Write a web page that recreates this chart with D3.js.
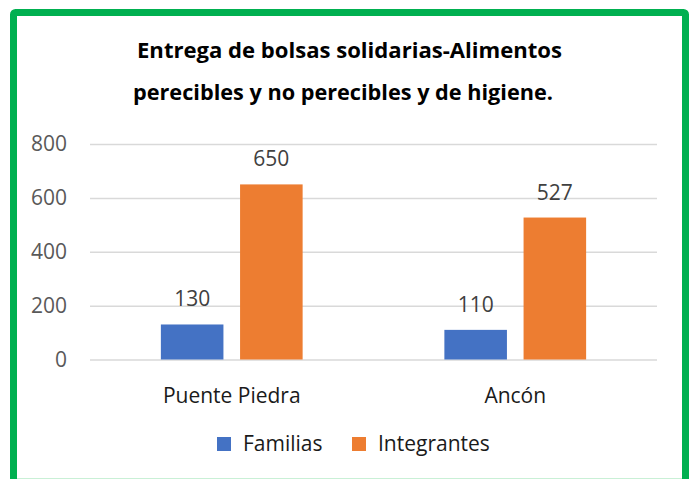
<!DOCTYPE html>
<html>
<head>
<meta charset="utf-8">
<script src="https://cdn.jsdelivr.net/npm/d3@7"></script>
<style>
  body { margin: 0; background: #fff; }
  svg { display: block; font-family: 'Open Sans', sans-serif; }
</style>
</head>
<body>
<div class="canvas"></div>
<script>
const categories = ['Puente Piedra', 'Ancón']
const seriesNames = ['Familias', 'Integrantes']
const familias = [130, 110]
const integrantes = [650, 527]
const yTicks = [0, 200, 400, 600, 800]
const titleLines = ['Entrega de bolsas solidarias-Alimentos', 'perecibles y no perecibles y de higiene.']

const colors = {Familias: '#4472C4', Integrantes: '#ED7D31'}
const size = {width: 693, height: 479}
const plot = {left: 90, right: 657, top: 144, bottom: 359.5}
const labelSize = 21

const svg = d3.select('.canvas').append('svg')
  .attr('width', size.width)
  .attr('height', size.height)

// green frame (bottom edge runs off the picture)
svg.append('rect')
  .attr('x', 13.5).attr('y', 12.5)
  .attr('width', 672).attr('height', 500)
  .attr('rx', 2)
  .attr('fill', 'none')
  .attr('stroke', '#00B050')
  .attr('stroke-width', 7)
svg.append('line')
  .attr('x1', 17).attr('x2', 682)
  .attr('y1', 478.5).attr('y2', 478.5)
  .attr('stroke', '#c9f0d6')

// title, squeezed to the width of the original condensed face
const title = svg.append('g')
  .attr('font-weight', 'bold')
  .attr('font-size', 22)
  .attr('fill', '#000')
title.append('text')
  .attr('x', 137).attr('y', 58)
  .attr('textLength', 425).attr('lengthAdjust', 'spacingAndGlyphs')
  .text(titleLines[0])
title.append('text')
  .attr('x', 133).attr('y', 100)
  .attr('textLength', 420).attr('lengthAdjust', 'spacingAndGlyphs')
  .text(titleLines[1])

const y = d3.scaleLinear()
  .domain([0, 800])
  .range([plot.bottom, plot.top])

const x0 = d3.scaleBand()
  .domain(categories)
  .range([plot.left, plot.right])
  .paddingInner(0.5)
  .paddingOuter(0.25)

const x1 = d3.scaleBand()
  .domain(seriesNames)
  .range([0, x0.bandwidth()])
  .paddingInner(0.21)

// gridlines + y labels
const yAxis = svg.append('g')
  .attr('transform', `translate(${plot.left},0)`)
  .call(d3.axisLeft(y)
    .tickValues(yTicks)
    .tickSize(-(plot.right - plot.left))
    .tickPadding(23))
yAxis.select('.domain').remove()
yAxis.selectAll('line').attr('stroke', '#d9d9d9').attr('stroke-width', 1.5)
yAxis.selectAll('text')
  .attr('font-size', labelSize)
  .attr('fill', '#595959')
  .attr('font-family', "'Open Sans', sans-serif")

// category labels
const xAxis = svg.append('g')
  .attr('transform', `translate(0,${plot.bottom})`)
  .call(d3.axisBottom(x0).tickSize(0).tickPadding(28.5))
xAxis.select('.domain').remove()
xAxis.selectAll('text')
  .attr('font-size', labelSize)
  .attr('fill', '#1a1a1a')
  .attr('font-family', "'Open Sans', sans-serif")

const rows = categories.map((c, i) => ({
  category: c,
  values: [
    {name: 'Familias', value: familias[i]},
    {name: 'Integrantes', value: integrantes[i]}
  ]
}))

const groups = svg.append('g').selectAll('g')
  .data(rows)
  .join('g')
  .attr('transform', d => `translate(${x0(d.category)},0)`)

groups.selectAll('rect')
  .data(d => d.values)
  .join('rect')
  .attr('x', d => x1(d.name))
  .attr('y', d => y(d.value))
  .attr('width', x1.bandwidth())
  .attr('height', d => y(0) - y(d.value))
  .attr('fill', d => colors[d.name])

groups.selectAll('text.value')
  .data(d => d.values)
  .join('text')
  .attr('class', 'value')
  .attr('x', d => x1(d.name) + x1.bandwidth() / 2)
  .attr('y', d => y(d.value) - 18)
  .attr('text-anchor', 'middle')
  .attr('font-size', labelSize)
  .attr('fill', '#404040')
  .text(d => d.value)

// legend
const legendX = [217, 352]
const legend = svg.append('g').selectAll('g')
  .data(seriesNames)
  .join('g')
  .attr('transform', (d, i) => `translate(${legendX[i]},437)`)
legend.append('rect')
  .attr('width', 14).attr('height', 14)
  .attr('fill', d => colors[d])
legend.append('text')
  .attr('x', 26).attr('y', 14)
  .attr('font-size', labelSize)
  .attr('fill', '#1a1a1a')
  .text(d => d)
</script>
</body>
</html>
